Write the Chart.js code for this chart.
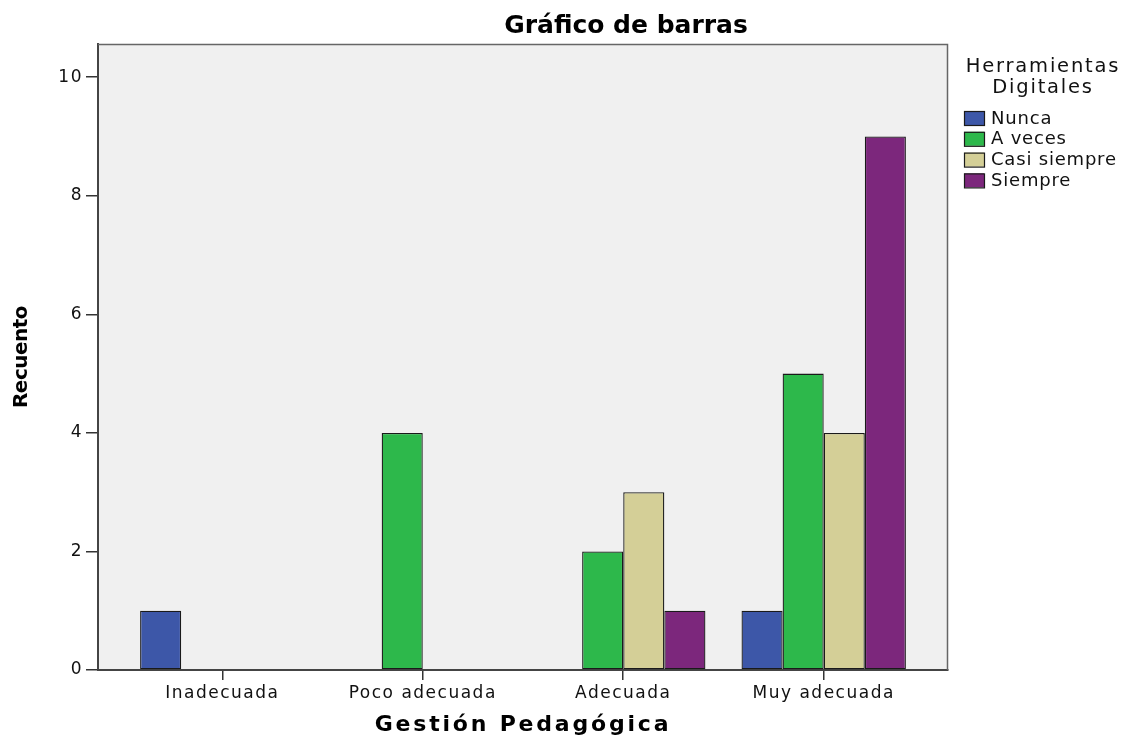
<!DOCTYPE html>
<html>
<head>
<meta charset="utf-8">
<script src="https://cdn.jsdelivr.net/npm/chart.js@4.4.1/dist/chart.umd.min.js"></script>
<style>
  html, body { margin: 0; background: #fff; }
  #wrap { width: 1122px; height: 740px; }
</style>
</head>
<body>
<div id="wrap"><canvas id="chart"></canvas></div>
<script>
// Datos
const categories = ['Inadecuada', 'Poco adecuada', 'Adecuada', 'Muy adecuada'];
const seriesNames = ['Nunca', 'A veces', 'Casi siempre', 'Siempre'];
const nunca = [1, 0, 0, 1];
const aVeces = [0, 4, 2, 5];
const casiSiempre = [0, 0, 3, 4];
const siempre = [0, 0, 1, 9];
const yTicks = [0, 2, 4, 6, 8, 10];
const colors = ['#3D57A8', '#2DB84B', '#D4CF97', '#7C277C'];

const FONT = '"DejaVu Sans", sans-serif';
const TICK_SPACING = '1.5px';
const TITLE_SPACING = { x: '2.8px', y: '-0.5px' };

const seriesValues = [nunca, aVeces, casiSiempre, siempre];

const datasets = seriesValues.map((vals, s) => ({
  label: seriesNames[s],
  data: vals.map((v, i) => ({ x: i, y: v })),
  backgroundColor: colors[s],
  borderColor: '#1a1a1a',
  borderWidth: 1.3,
  borderSkipped: false,
  categoryPercentage: 0.82,
  barPercentage: 1.0,
}));

// espaciado de letras (el texto de SPSS es ancho)
const spacingPlugin = {
  id: 'spacing',
  beforeLayout(c) { c.ctx.letterSpacing = TICK_SPACING; },
  beforeDraw(c) {
    c.ctx.letterSpacing = TICK_SPACING;
    Object.values(c.scales).forEach(s => {
      if (s._spaced) return;
      const orig = s.drawTitle.bind(s);
      s.drawTitle = function (...args) {
        const prev = this.ctx.letterSpacing;
        this.ctx.letterSpacing = TITLE_SPACING[this.id] || TICK_SPACING;
        orig(...args);
        this.ctx.letterSpacing = prev;
      };
      s._spaced = true;
    });
  },
};

// fondo gris del área de gráfico
const plotBg = {
  id: 'plotBg',
  beforeDraw(c) {
    const { ctx, chartArea: a } = c;
    ctx.save();
    ctx.fillStyle = '#F0F0F0';
    ctx.fillRect(a.left, a.top, a.right - a.left, a.bottom - a.top);
    ctx.restore();
  },
  afterDraw(c) {
    const { ctx, chartArea: a } = c;
    ctx.save();
    ctx.strokeStyle = '#666';
    ctx.lineWidth = 1.5;
    ctx.beginPath();
    ctx.moveTo(a.left, a.top + 0.5);
    ctx.lineTo(a.right - 0.5, a.top + 0.5);
    ctx.lineTo(a.right - 0.5, a.bottom);
    ctx.stroke();
    ctx.restore();
  },
};

// título y leyenda
const titleLegend = {
  id: 'titleLegend',
  afterDraw(c) {
    const ctx = c.ctx;
    ctx.save();
    ctx.textBaseline = 'middle';
    ctx.textAlign = 'center';
    ctx.fillStyle = '#000';
    ctx.letterSpacing = '0px';
    ctx.font = 'bold 25px ' + FONT;
    ctx.fillText('Gráfico de barras', 626, 26);

    ctx.fillStyle = '#111';
    ctx.letterSpacing = '1.8px';
    ctx.font = '19.5px ' + FONT;
    ctx.fillText('Herramientas', 1043, 67);
    ctx.fillText('Digitales', 1043, 88);

    ctx.textAlign = 'left';
    ctx.letterSpacing = '0.8px';
    ctx.font = '18px ' + FONT;
    c.data.datasets.forEach((ds, i) => {
      const y = 118 + i * 20.8;
      ctx.fillStyle = ds.backgroundColor;
      ctx.fillRect(964, y - 7, 20, 14);
      ctx.strokeStyle = '#1a1a1a';
      ctx.lineWidth = 1.2;
      ctx.strokeRect(964.5, y - 6.5, 20, 14);
      ctx.fillStyle = '#111';
      ctx.fillText(ds.label, 991, y + 1);
    });
    ctx.restore();
  },
};

new Chart(document.getElementById('chart').getContext('2d'), {
  type: 'bar',
  data: { datasets },
  options: {
    responsive: true,
    maintainAspectRatio: false,
    animation: false,
    layout: { padding: { left: 0, top: 44, right: 174, bottom: 0 } },
    plugins: {
      legend: { display: false },
      tooltip: { enabled: false },
    },
    scales: {
      x: {
        type: 'linear',
        min: -0.62,
        max: 3.62,
        offset: false,
        afterBuildTicks: scale => { scale.ticks = categories.map((_, i) => ({ value: i })); },
        afterFit: scale => { scale.height = 70; },
        grid: { offset: false, drawOnChartArea: false, drawTicks: true, tickLength: 10, color: '#333', lineWidth: 1.5 },
        border: { display: true, color: '#444', width: 2 },
        ticks: {
          autoSkip: false,
          maxRotation: 0,
          padding: 3,
          color: '#111',
          font: { family: FONT, size: 17 },
          callback: v => categories[v],
        },
        title: {
          display: true,
          text: 'Gestión Pedagógica',
          color: '#000',
          font: { family: FONT, size: 22, weight: 'bold' },
          padding: { top: 0, bottom: 2 },
        },
      },
      y: {
        min: 0,
        max: 10.56,
        afterBuildTicks: scale => { scale.ticks = yTicks.map(v => ({ value: v })); },
        afterFit: scale => { scale.width = 98; },
        grid: { drawOnChartArea: false, drawTicks: true, tickLength: 12, color: '#333', lineWidth: 1.5 },
        border: { display: true, color: '#444', width: 2 },
        ticks: {
          padding: 3,
          color: '#111',
          font: { family: FONT, size: 17 },
        },
        title: {
          display: true,
          text: 'Recuento',
          color: '#000',
          font: { family: FONT, size: 20, weight: 'bold' },
          padding: { top: 10, bottom: 0 },
        },
      },
    },
  },
  plugins: [spacingPlugin, plotBg, titleLegend],
});
</script>
</body>
</html>
